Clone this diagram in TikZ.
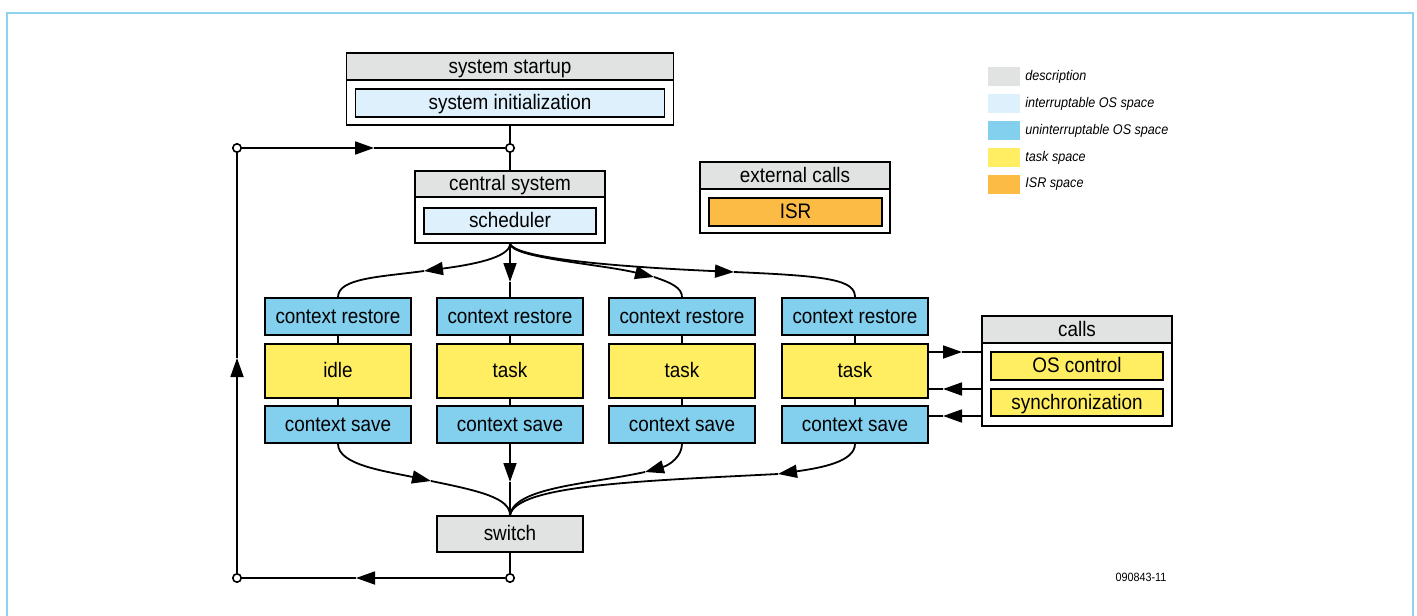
\documentclass[tikz,border=0pt]{standalone}
\usepackage{fontspec}
\setmainfont{Liberation Sans}[FakeStretch=0.9]
\usetikzlibrary{arrows.meta}
\definecolor{cgray}{HTML}{E1E2E2}
\definecolor{clblue}{HTML}{DDF0FB}
\definecolor{cblue}{HTML}{82CFEE}
\definecolor{cyellow}{HTML}{FFEE62}
\definecolor{corange}{HTML}{FBBB45}
\definecolor{cframe}{HTML}{8ED3EE}
\begin{document}
\begin{tikzpicture}[x=0.5pt,y=-0.5pt,
  box/.style={draw, line width=0.8pt, inner sep=0pt, text height=7.8pt, text depth=1pt, font=\fontsize{10.5}{12}\selectfont},
  outerbox/.style={box, fill=white, minimum width=95pt, minimum height=36pt},
  hdr/.style={box, fill=cgray, minimum width=95pt, minimum height=13.5pt},
  innerbox/.style={box, minimum width=86pt, minimum height=13.5pt},
  crest/.style={box, fill=cblue, minimum width=73pt, minimum height=18.5pt},
  taskbox/.style={box, fill=cyellow, minimum width=73pt, minimum height=27pt},
  conn/.style={line width=0.9pt},
  arr/.style={conn, -{Triangle[length=9.5pt,width=6.5pt]}},
  junc/.style={circle, draw, fill=white, line width=0.8pt, minimum size=4.2pt, inner sep=0pt},
  swatch/.style={minimum width=16pt, minimum height=9.5pt, inner sep=0pt},
  legtext/.style={anchor=west, inner sep=0pt, font=\fontsize{7}{8}\itshape\selectfont}
]
\useasboundingbox (0,0) rectangle (1417,615);
% frame
\draw[cframe, line width=1pt] (7,620) -- (7,13) -- (1413,13) -- (1413,620);

% system startup
\node[outerbox, minimum width=163.5pt] (ss) at (510,89) {};
\node[hdr, minimum width=163.5pt] (ssh) at (510,66.5) {system startup};
\node[innerbox, fill=clblue, minimum width=154.5pt, minimum height=14pt] (si) at (510,103) {system initialization};

% central system
\node[outerbox] (cs) at (510,207) {};
\node[hdr, minimum height=13pt] (csh) at (510,184) {central system};
\node[innerbox, fill=clblue, minimum height=13pt] (sch) at (510,221) {scheduler};

% external calls
\node[outerbox, minimum height=35.5pt] (ec) at (795,197.5) {};
\node[hdr] (ech) at (795,175.5) {external calls};
\node[innerbox, fill=corange, minimum width=86.5pt, minimum height=14pt] (isr) at (795.5,212) {ISR};

% calls
\node[outerbox, minimum height=55pt] (calls) at (1077,371) {};
\node[hdr] (callsh) at (1077,329.5) {calls};
\node[innerbox, fill=cyellow, minimum height=14pt] (osc) at (1077,366) {OS control};
\node[innerbox, fill=cyellow] (sync) at (1077,402.5) {synchronization};

% columns
\foreach \i/\x/\t in {1/338/idle,2/510/task,3/682/task,4/855/task}{
  \node[crest] (cr\i) at (\x,316.5) {context restore};
  \node[taskbox] (tk\i) at (\x,371) {\t};
  \node[crest] (sv\i) at (\x,424.5) {context save};
  \draw[conn] (cr\i.south) -- (tk\i.north);
  \draw[conn] (tk\i.south) -- (sv\i.north);
}

% switch
\node[box, fill=cgray, minimum width=73pt, minimum height=18pt] (sw) at (510,534) {switch};

% junctions
\node[junc] (jt) at (510,148) {};
\node[junc] (lt) at (237,148) {};
\node[junc] (jb) at (510,578) {};
\node[junc] (lb) at (237,578) {};

% arrow tip coordinates
\coordinate (mt) at (374,148);
\coordinate (mb) at (356,578);
\coordinate (ml) at (237,358);
\coordinate (m1) at (424,271);
\coordinate (m2) at (510,282);
\coordinate (m3) at (654,277);
\coordinate (m4) at (734,272);
\coordinate (n1) at (431,481);
\coordinate (n2) at (510,482);
\coordinate (n3) at (645,472);
\coordinate (n4) at (778,474);

% main spine
\draw[conn] (ss.south) -- (jt);
\draw[conn] (jt) -- (cs.north);
\draw[conn] (sw.south) -- (jb);
\draw[arr] (jb) -- (mb);
\draw[conn] (mb) -- (lb);
\draw[arr] (lb) -- (ml);
\draw[conn] (ml) -- (lt);
\draw[arr] (lt) -- (mt);
\draw[conn] (mt) -- (jt);

% scheduler to context restore
\draw[arr] (cs.south) .. controls (510,258) and (470,265) .. (m1);
\draw[conn] (m1) .. controls (380,277) and (338,278) .. (cr1.north);
\draw[arr] (cs.south) -- (m2);
\draw[conn] (m2) -- (cr2.north);
\draw[arr] (cs.south) .. controls (512,258) and (600,264) .. (m3);
\draw[conn] (m3) .. controls (672,283) and (682,288) .. (cr3.north);
\draw[arr] (cs.south) .. controls (515,257) and (600,266) .. (m4);
\draw[conn] (m4) .. controls (830,276) and (855,280) .. (cr4.north);

% context save to switch
\draw[arr] (sv1.south) .. controls (338,465) and (385,471) .. (n1);
\draw[conn] (n1) .. controls (480,491) and (510,498) .. (sw.north);
\draw[arr] (sv2.south) -- (n2);
\draw[conn] (n2) -- (sw.north);
\draw[arr] (sv3.south) .. controls (682,456) and (670,465) .. (n3);
\draw[conn] (n3) .. controls (590,484) and (514,487) .. (sw.north);
\draw[arr] (sv4.south) .. controls (855,462) and (820,468) .. (n4);
\draw[conn] (n4) .. controls (640,481) and (516,485) .. (sw.north);

% calls connectors
\coordinate (c1) at (962,352);
\coordinate (c2) at (943,389);
\coordinate (c3) at (943,416);
\draw[arr] (tk4.east |- c1) -- (c1);
\draw[conn] (c1) -- (calls.west |- c1);
\draw[arr] (calls.west |- c2) -- (c2);
\draw[conn] (c2) -- (tk4.east |- c2);
\draw[arr] (calls.west |- c3) -- (c3);
\draw[conn] (c3) -- (sv4.east |- c3);

% legend
\foreach \c/\y/\t [count=\k] in {cgray/76.5/description, clblue/103.5/interruptable OS space, cblue/130.5/uninterruptable OS space, cyellow/157.5/task space, corange/184.5/ISR space}{
  \node[swatch, fill=\c] (sw\k) at (1004,\y) {};
  \node[legtext] (lt\k) at (1025,\y) {\t};
}

\node[inner sep=0pt, font=\fontsize{6}{7}\selectfont] (code) at (1141,577) {090843-11};
\end{tikzpicture}
\end{document}
